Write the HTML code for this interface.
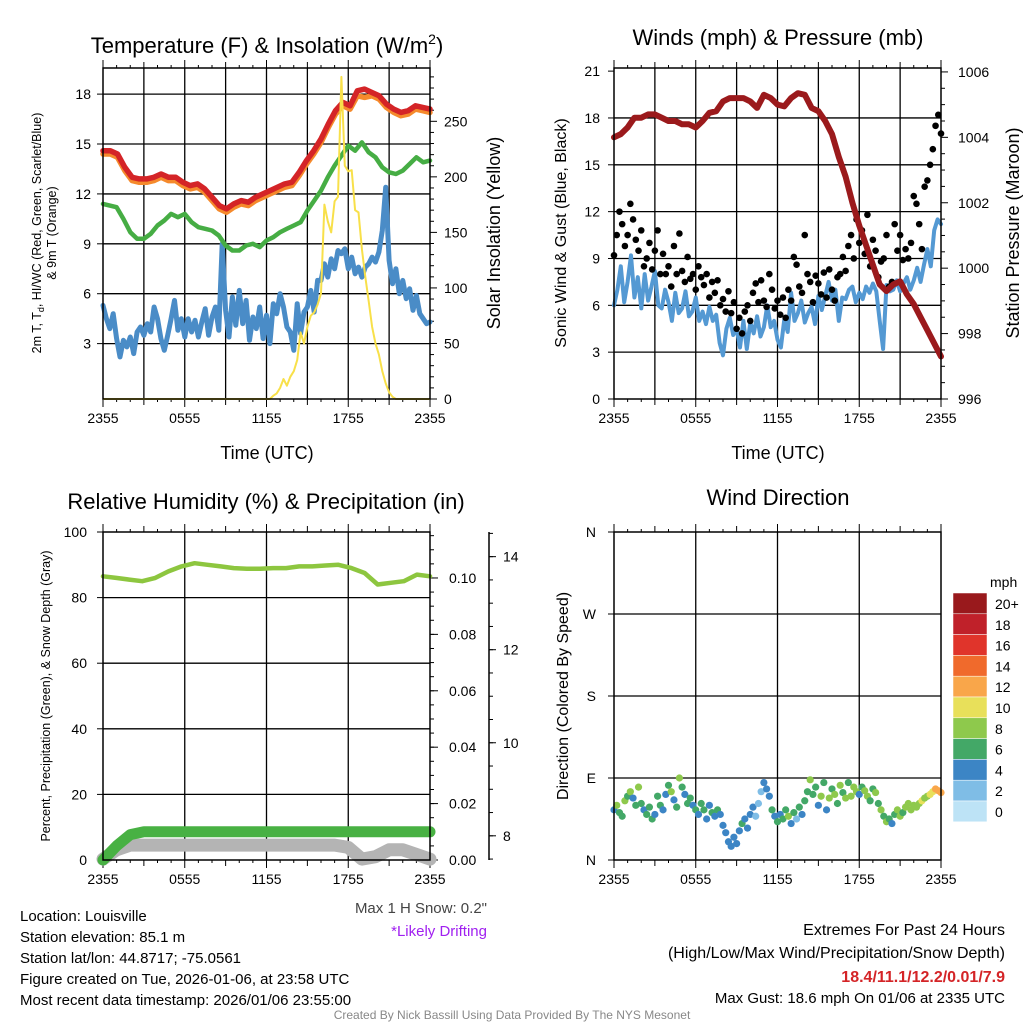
<!DOCTYPE html>
<html><head><meta charset="utf-8">
<style>
html,body{margin:0;padding:0;background:#fff;}
svg{display:block;font-family:"Liberation Sans",Arial,sans-serif;}
</style></head>
<body>
<svg id="c" width="1024" height="1024" viewBox="0 0 1024 1024"></svg>
<script>
// ---------- DATA ----------
const xTickLabels = ["2355","0555","1155","1755","2355"];
const tempTicks = [3,6,9,12,15,18];
const solarTicks = [0,50,100,150,200,250];
const windTicks = [0,3,6,9,12,15,18,21];
const presTicks = [996,998,1000,1002,1004,1006];
const rhTicks = [0,20,40,60,80,100];
const precipTicks = [0.00,0.02,0.04,0.06,0.08,0.10];
const snowTicks = [8,10,12,14];
const dirTickLabels = ["N","E","S","W","N"];
const speedBins = ["0","2","4","6","8","10","12","14","16","18","20+"];
const speedColors = ["#bde3f6","#7fbde6","#3c85c5","#43a867","#8ec94c","#e8e05a","#f9a64a","#f06a2c","#e0342b","#c0212a","#99191c"];

const tempRed = [14.6,14.6,14.4,13.6,13.0,12.9,12.9,13.0,13.2,13.0,13.0,12.7,12.5,12.6,12.3,11.8,11.3,11.1,11.4,11.6,11.5,11.8,12.0,12.2,12.4,12.6,12.7,13.3,14.0,14.6,15.3,16.2,17.0,17.5,17.3,18.2,18.3,18.1,17.9,17.4,17.1,16.9,17.0,17.3,17.2,17.1];
const temp9m = [14.4,14.4,14.2,13.4,12.8,12.7,12.7,12.8,13.0,12.8,12.8,12.5,12.3,12.4,12.1,11.6,11.1,10.9,11.2,11.4,11.3,11.6,11.8,12.0,12.2,12.4,12.5,13.1,13.8,14.4,15.1,16.0,16.8,17.3,17.1,17.9,17.8,17.9,17.7,17.2,16.9,16.7,16.8,17.1,17.0,16.9];
const tempGreen = [11.4,11.3,11.2,10.5,9.7,9.3,9.3,9.6,10.1,10.4,10.8,10.6,10.8,10.3,10.0,9.9,9.8,9.5,8.9,8.6,8.6,8.9,9.0,8.8,9.2,9.4,9.7,9.9,10.1,10.3,11.0,11.6,12.2,13.0,13.7,14.3,14.9,14.6,15.1,14.5,14.2,13.6,13.3,13.2,13.4,13.8,14.2,13.9,14.0];
const tempBlue = [5.3,4.5,3.9,4.8,3.3,2.2,3.2,2.8,3.4,2.4,3.7,4.0,
 3.5,4.2,3.7,5.2,4.5,3.3,2.6,3.5,4.5,5.6,3.8,4.5,
 3.4,4.5,3.7,4.4,3.4,4.3,5.1,3.5,4.6,5.2,3.8,9.0,
 5.0,3.4,5.8,4.1,6.2,4.2,5.6,3.2,4.6,3.9,5.2,3.3,
 4.7,3.0,5.4,4.8,6.0,5.2,4.0,3.7,2.6,5.4,3.6,4.9,
 5.2,6.2,4.9,6.8,6.8,7.8,7.0,8.1,7.5,8.6,8.4,8.7,
 7.5,8.2,7.2,7.6,7.0,7.6,7.8,8.2,7.9,8.5,9.8,12.4,
 8.0,6.6,7.5,6.0,6.8,5.7,6.3,5.0,5.9,4.8,4.5,4.2,4.3];
const solar = [0,0,0,0,0,0,0,0,0,0,0,0,0,0,0,0,0,0,0,0,0,0,0,0,
 0,0,0,0,0,0,0,0,0,0,0,0,0,0,0,0,0,0,0,0,0,0,0,0,
 0,0,3,5,10,18,12,20,25,35,60,50,65,75,78,85,95,175,160,150,178,182,290,210,205,206,170,168,135,110,88,65,50,40,25,14,6,2,
 0,0,0,0,0,0,0,0,0,0,0];

const pressure = [1004.0,1004.1,1004.3,1004.6,1004.6,1004.7,1004.7,1004.6,1004.5,1004.5,1004.4,1004.4,1004.3,1004.5,1004.75,1004.8,1005.1,1005.2,1005.2,1005.2,1005.1,1004.9,1005.3,1005.2,1005.0,1004.95,1005.2,1005.35,1005.3,1004.9,1004.8,1004.5,1004.1,1003.4,1002.8,1002.0,1001.3,1000.7,1000.1,999.5,999.3,999.5,999.6,999.2,998.9,998.5,998.1,997.7,997.3];
const sonicWind = [6.0,7.0,8.5,6.2,7.5,9.2,6.5,7.8,5.8,8.0,6.3,7.2,
 8.2,6.0,5.8,7.0,6.2,5.0,6.8,5.5,5.8,6.9,5.3,5.6,
 6.5,5.0,5.6,4.8,5.9,5.0,5.4,3.6,2.8,4.5,5.2,4.1,
 4.5,3.3,5.0,3.2,4.9,4.2,5.3,4.0,4.6,6.0,4.6,5.0,
 3.8,3.3,5.1,4.3,6.8,5.0,5.5,6.3,4.9,5.5,5.9,4.8,
 6.6,5.7,6.6,7.5,6.3,7.0,5.0,6.5,6.4,7.0,7.2,6.2,
 6.8,6.4,7.2,6.8,7.4,6.9,5.0,3.2,7.3,6.9,7.0,7.6,
 6.9,7.4,7.8,7.0,7.6,8.4,7.5,8.6,9.6,8.5,10.8,11.5,11.2];
const gust = [9.2,10.5,12.0,11.2,9.8,10.5,12.5,11.5,10.2,9.5,
 10.8,8.5,9.0,10.0,8.3,9.5,10.8,8.0,9.3,8.0,
 8.5,7.2,9.8,8.0,10.6,8.2,7.5,9.1,7.7,8.0,
 7.0,8.5,7.8,7.3,8.0,6.5,7.5,6.8,7.6,6.0,
 6.4,5.6,6.9,5.5,6.2,4.5,5.2,4.2,5.6,6.0,
 5.0,6.8,7.4,6.2,7.6,6.3,5.9,8.0,7.0,5.8,
 6.3,5.4,6.5,5.2,7.0,6.3,9.1,8.6,7.2,6.8,
 10.5,8.0,7.5,6.2,7.9,7.4,6.7,8.1,6.5,8.3,
 7.0,6.3,7.8,8.0,9.1,8.2,9.8,10.5,9.0,11.5,
 10.0,10.8,9.3,11.8,8.5,10.2,9.5,7.8,8.8,9.0,
 10.5,7.2,7.5,11.2,9.5,10.5,8.9,9.6,9.0,10.0,
 13.0,12.5,11.2,9.6,13.6,14.0,15.0,16.0,17.5,18.2,17.0];

const rh = [86.5,86,85.5,85,86,88,89.5,90.5,90,89.5,89,88.8,88.8,89,89,89.5,89.5,89.8,90,89,87.5,84,84.5,85,87,86.5];
const precip = [0,0.005,0.009,0.01,0.01,0.01,0.01,0.01,0.01,0.01,0.01,0.01,0.01,0.01,0.01,0.01,0.01,0.01,0.01,0.01,0.01,0.01,0.01,0.01,0.01];
const snowDepth = [7.5,7.7,7.8,7.8,7.8,7.8,7.8,7.8,7.8,7.8,7.8,7.8,7.8,7.8,7.8,7.8,7.8,7.8,7.75,7.5,7.55,7.7,7.7,7.6,7.5];

const windDir = [55,60,52,48,65,70,75,68,60,80,
 62,55,50,58,45,50,70,60,55,72,
 82,75,66,58,90,80,72,62,68,60,
 55,50,62,55,45,60,52,48,55,50,
 38,30,20,15,25,18,32,40,45,35,
 50,58,48,62,75,85,78,70,55,48,
 42,50,45,55,48,40,52,45,58,50,
 65,75,88,72,80,60,70,85,55,68,
 78,72,62,82,74,68,85,70,80,75,
 72,80,76,70,65,78,74,62,55,48,
 42,45,40,50,55,48,52,58,62,55,
 60,58,62,65,68,70,72,75,78,76,74];
const dirSpeed = [4.5,7.0,6.5,5.0,8.2,5.5,7.6,3.5,6.4,8.4,
 5.6,4.6,6.8,5.0,5.8,4.2,6.2,5.2,3.9,4.8,
 5.5,7.4,4.2,6.8,8.0,5.6,4.5,6.3,5.2,4.8,
 6.6,4.4,6.0,5.1,3.6,4.5,5.2,3.8,6.0,4.3,
 3.5,4.4,3.8,4.9,3.4,4.2,4.6,5.0,3.8,4.5,
 3.2,4.5,2.5,1.8,2.4,3.0,4.2,4.8,5.4,3.6,
 5.2,4.3,6.6,5.0,7.1,3.8,5.4,2.2,6.4,4.8,
 6.9,6.2,7.5,5.0,6.6,4.5,7.2,6.0,4.1,7.0,
 6.3,7.4,5.2,8.2,6.8,7.5,6.2,8.6,7.4,8.8,
 4.4,6.8,8.0,7.2,6.5,5.0,7.6,5.4,7.0,6.5,
 7.0,5.2,4.5,6.6,7.8,8.2,6.2,7.5,8.6,7.3,
 8.0,7.4,8.4,9.0,7.6,8.8,9.4,10.2,11.0,12.2,11.4];

// ---------- DRAW ----------
const svg = document.getElementById('c');
const NS = "http://www.w3.org/2000/svg";
function el(tag, attrs, parent){ const e=document.createElementNS(NS,tag); for(const k in attrs) e.setAttribute(k,attrs[k]); (parent||svg).appendChild(e); return e; }
function txt(s, x, y, size, anchor, extra, parent){ const t=el('text',Object.assign({x:x,y:y,'font-size':size,'text-anchor':anchor||'start',fill:'#000'},extra||{}),parent); t.textContent=s; return t; }
function lin(a,b,v,lo,hi){ return a+(v-lo)/(hi-lo)*(b-a); }
function series(arr, xf, yf){ const n=arr.length; return arr.map((v,i)=>[xf(i*24/(n-1)), yf(v)]); }
function pathD(pts){ return pts.map((p,i)=>(i?'L':'M')+p[0].toFixed(1)+' '+p[1].toFixed(1)).join(''); }

function panelFrame(name, x0,x1,y0,y1, hGrid, vStep){
  const g=el('g',{});
  
  
  for(let h=vStep; h<24; h+=vStep){ const x=lin(x0,x1,h,0,24); el('line',{x1:x,x2:x,y1:y0,y2:y1,stroke:'#000','stroke-width':1.3},g); }
  hGrid.forEach(y=>el('line',{x1:x0,x2:x1,y1:y,y2:y,stroke:'#000','stroke-width':1.3},g));
  for(let h=0; h<=24; h+=1){ const x=lin(x0,x1,h,0,24); const L=(h%6==0)?8:(h%3==0?6:3); el('line',{x1:x,x2:x,y1:y1,y2:y1+L,stroke:'#000','stroke-width':1},g); el('line',{x1:x,x2:x,y1:y0,y2:y0-L,stroke:'#000','stroke-width':1},g);}
  xTickLabels.forEach((s,i)=>{ const x=lin(x0,x1,i*6,0,24); const t=txt(s,x,y1+24,14,'middle',{},g);   });
  return g;
}
function frameBox(x0,x1,y0,y1){ const r=el('rect',{x:x0,y:y0,width:x1-x0,height:y1-y0,fill:'none',stroke:'#000','stroke-width':1.5});   }

// ===== Panel 1 =====
{
const X0=103,X1=430,Y0=68,Y1=399;
const yT=v=>lin(Y1,Y0,v,-0.33,19.57), yS=v=>lin(Y1,Y0,v,0,298), xT=h=>lin(X0,X1,h,0,24);
panelFrame('temperature-panel',X0,X1,Y0,Y1,tempTicks.map(yT),3);
tempTicks.forEach(v=>{const y=yT(v); el('line',{x1:X0,x2:X0-6,y1:y,y2:y,stroke:'#000'}); const t=txt(String(v),X0-12,y+5,14,'end');  });
solarTicks.forEach(v=>{const y=yS(v); el('line',{x1:X1,x2:X1+7,y1:y,y2:y,stroke:'#000'}); const t=txt(String(v),X1+14,y+5,14,'start');  });
for(let v=10;v<298;v+=10){ if(v%50) el('line',{x1:X1,x2:X1+4,y1:yS(v),y2:yS(v),stroke:'#000'}); }
const p1=el('path',{d:pathD(series(tempBlue,xT,yT)),fill:'none',stroke:'#4a8cc7','stroke-width':5,'stroke-linejoin':'round','stroke-linecap':'round'});
 
const p2=el('path',{d:pathD(series(tempGreen,xT,yT)),fill:'none',stroke:'#46ad44','stroke-width':4.5,'stroke-linejoin':'round','stroke-linecap':'round'});
 
const p3=el('path',{d:pathD(series(temp9m,xT,yT)),fill:'none',stroke:'#f58a2c','stroke-width':5.5,'stroke-linejoin':'round','stroke-linecap':'round'});
 
const p4=el('path',{d:pathD(series(tempRed,xT,yT)),fill:'none',stroke:'#d42427','stroke-width':5.5,'stroke-linejoin':'round','stroke-linecap':'round'});
 
const p5=el('path',{d:pathD(series(solar,xT,yS)),fill:'none',stroke:'#f8e04a','stroke-width':2,'stroke-linejoin':'round'});
 
frameBox(X0,X1,Y0,Y1);
const t=el('text',{x:267,y:53,'font-size':22,'text-anchor':'middle'}); t.innerHTML='Temperature (F) &amp; Insolation (W/m<tspan dy="-9" font-size="14">2</tspan><tspan dy="9">)</tspan>';
 
const a=txt('Time (UTC)',267,459,18,'middle');  
const yl=el('text',{'font-size':12.5,'text-anchor':'middle',transform:'translate(41,233) rotate(-90)'});
yl.innerHTML='2m T, T<tspan dy="3" font-size="9">d</tspan><tspan dy="-3">, HI/WC (Red, Green, Scarlet/Blue)</tspan>';
 
const yl2=el('text',{'font-size':12.5,'text-anchor':'middle',transform:'translate(56,233) rotate(-90)'}); yl2.textContent='& 9m T (Orange)';
 
const yr=el('text',{'font-size':18,'text-anchor':'middle',transform:'translate(500,233) rotate(-90)'}); yr.textContent='Solar Insolation (Yellow)';
 
}

// ===== Panel 2 =====
{
const X0=614,X1=941,Y0=68,Y1=399;
const yW=v=>lin(Y1,Y0,v,0,21.2), yP=v=>lin(Y1,Y0,v,996,1006.12), xT=h=>lin(X0,X1,h,0,24);
panelFrame('wind-pressure-panel',X0,X1,Y0,Y1,windTicks.filter(v=>v>0&&v<21).map(yW),3);
windTicks.forEach(v=>{const y=yW(v); el('line',{x1:X0,x2:X0-6,y1:y,y2:y,stroke:'#000'}); const t=txt(String(v),X0-14,y+5,14,'end');  });
presTicks.forEach(v=>{const y=yP(v); el('line',{x1:X1,x2:X1+7,y1:y,y2:y,stroke:'#000'}); const t=txt(String(v),X1+17,y+5,14,'start');  });
for(let v=996.5;v<1006;v+=0.5){ if((v*2)%4) el('line',{x1:X1,x2:X1+4,y1:yP(v),y2:yP(v),stroke:'#000'}); }
const b=el('path',{d:pathD(series(sonicWind,xT,yW)),fill:'none',stroke:'#5499d3','stroke-width':4,'stroke-linejoin':'round','stroke-linecap':'round'});
 
series(gust,xT,yW).forEach(p=>{ const c=el('circle',{cx:p[0],cy:p[1],r:3.3,fill:'#000'});
 
  });
const m=el('path',{d:pathD(series(pressure,xT,yP)),fill:'none',stroke:'#9b1a1c','stroke-width':6,'stroke-linejoin':'round','stroke-linecap':'round'});
 
frameBox(X0,X1,Y0,Y1);
const t=txt('Winds (mph) & Pressure (mb)',778,45,22,'middle');  
const a=txt('Time (UTC)',778,459,18,'middle');  
const yl=el('text',{'font-size':16,'text-anchor':'middle',transform:'translate(566,233) rotate(-90)'}); yl.textContent='Sonic Wind & Gust (Blue, Black)';
 
const yr=el('text',{'font-size':18,'text-anchor':'middle',transform:'translate(1019,233) rotate(-90)'}); yr.textContent='Station Pressure (Maroon)';
 
}

// ===== Panel 3 =====
{
const X0=103,X1=430,Y0=532,Y1=860;
const yR=v=>lin(Y1,Y0,v,0,100), yPr=v=>lin(Y1,Y0,v,0,0.1163), yS=v=>lin(Y1,Y0,v,7.48,14.53), xT=h=>lin(X0,X1,h,0,24);
panelFrame('humidity-precip-panel',X0,X1,Y0,Y1,rhTicks.filter(v=>v>0&&v<100).map(yR),6);
rhTicks.forEach(v=>{const y=yR(v); el('line',{x1:X0,x2:X0-6,y1:y,y2:y,stroke:'#000'}); const t=txt(String(v),X0-16,y+5,14,'end');  });
for(let v=0.005;v<0.116;v+=0.005){ el('line',{x1:X1,x2:X1+4,y1:yPr(v),y2:yPr(v),stroke:'#000'}); }
precipTicks.forEach(v=>{const y=yPr(v); el('line',{x1:X1,x2:X1+8,y1:y,y2:y,stroke:'#000'}); const t=txt(v.toFixed(2),X1+19,y+5,14,'start');  });
el('line',{x1:489,x2:489,y1:532,y2:860,stroke:'#000','stroke-width':1.5});
for(let v=7.5;v<=14.5;v+=0.5){ el('line',{x1:489,x2:493,y1:yS(v),y2:yS(v),stroke:'#000'}); }
snowTicks.forEach(v=>{const y=yS(v); el('line',{x1:489,x2:496,y1:y,y2:y,stroke:'#000'}); const t=txt(String(v),503,y+5,14,'start');  });
const g=el('path',{d:pathD(series(snowDepth,xT,yS)),fill:'none',stroke:'#b4b4b4','stroke-width':13,'stroke-linejoin':'round','stroke-linecap':'round'});
 
const p=el('path',{d:pathD(series(precip,xT,yPr)),fill:'none',stroke:'#48b143','stroke-width':11,'stroke-linejoin':'round','stroke-linecap':'round'});
 
const r=el('path',{d:pathD(series(rh,xT,yR)),fill:'none',stroke:'#8dc63f','stroke-width':4.5,'stroke-linejoin':'round','stroke-linecap':'round'});
 
frameBox(X0,X1,Y0,Y1);
const t=txt('Relative Humidity (%) & Precipitation (in)',266,509,22,'middle');  
const yl=el('text',{'font-size':12.5,'text-anchor':'middle',transform:'translate(50,696) rotate(-90)'}); yl.textContent='Percent, Precipitation (Green), & Snow Depth (Gray)';
 
}

// ===== Panel 4 =====
{
const X0=614,X1=941,Y0=532,Y1=860;
const yD=v=>lin(Y1,Y0,v,0,360), xT=h=>lin(X0,X1,h,0,24);
panelFrame('wind-direction-panel',X0,X1,Y0,Y1,[90,180,270].map(yD),6);
dirTickLabels.forEach((s,i)=>{const y=yD(i*90); el('line',{x1:X0,x2:X0-6,y1:y,y2:y,stroke:'#000'}); const t=txt(s,X0-18,y+5,14,'end');  });
const pts=series(windDir,xT,yD);
pts.forEach((p,i)=>{ const s=dirSpeed[i]; const bin=Math.min(10,Math.max(0,Math.round(s/2)));
 const c=el('circle',{cx:p[0],cy:p[1],r:3.6,fill:speedColors[bin]});
 
  });
frameBox(X0,X1,Y0,Y1);
const t=txt('Wind Direction',778,505,22,'middle');  
const yl=el('text',{'font-size':16,'text-anchor':'middle',transform:'translate(568,696) rotate(-90)'}); yl.textContent='Direction (Colored By Speed)';
 
const cb=el('g',{});  
const top=593, bh=20.8;
speedBins.forEach((s,k)=>{ const idx=speedBins.length-1-k; const y=top+k*bh;
 el('rect',{x:953,y:y,width:34,height:bh,fill:speedColors[idx],stroke:'#fff','stroke-width':0.5},cb);
 const l=txt(speedBins[idx],995,y+16,14,'start',{},cb);   });
const u=txt('mph',990,587,14,'start',{},cb);  
}

// ===== Footer text =====
const info=["Location: Louisville","Station elevation: 85.1 m","Station lat/lon: 44.8717; -75.0561","Figure created on Tue, 2026-01-06, at 23:58 UTC","Most recent data timestamp: 2026/01/06 23:55:00"];
info.forEach((s,i)=>{ const t=txt(s,20,921+i*21,15,'start');   });
{ const t=txt('Max 1 H Snow: 0.2"',487,913,15,'end',{fill:'#444'});   }
{ const t=txt('*Likely Drifting',487,936,15,'end',{fill:'#a020f0'});   }
{ const t=txt('Extremes For Past 24 Hours',1005,935,16,'end');   }
{ const t=txt('(High/Low/Max Wind/Precipitation/Snow Depth)',1005,958,16,'end');   }
{ const t=txt('18.4/11.1/12.2/0.01/7.9',1005,982,16,'end',{fill:'#d42427','font-weight':'bold'});   }
{ const t=txt('Max Gust: 18.6 mph On 01/06 at 2335 UTC',1005,1003,15,'end');   }
{ const t=txt('Created By Nick Bassill Using Data Provided By The NYS Mesonet',512,1019,12,'middle',{fill:'#888'});   }
</script>
</body></html>
